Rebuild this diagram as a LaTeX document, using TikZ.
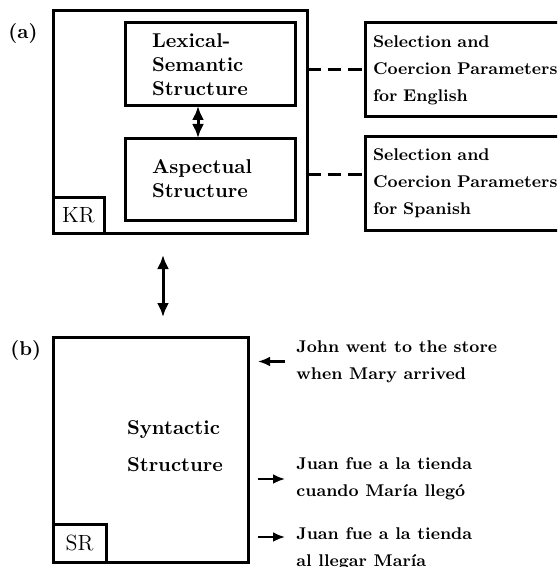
\documentclass[tikz,border=0pt]{standalone}
\usetikzlibrary{arrows.meta,positioning}
\tikzstyle{frame} = [rectangle, draw, line width=1.5pt, inner sep=0pt, outer sep=0pt]
\tikzstyle{block} = [frame, align=left, font=\bfseries, inner xsep=13.5pt,
text width=58pt, minimum width=85pt]
\tikzstyle{param} = [frame, align=left, font=\fontsize{8.5}{13.5}\selectfont\bfseries,
inner xsep=4pt, text width=110pt, minimum height=47pt, anchor=west]
\tikzstyle{tag} = [frame, font=\fontsize{11}{13}\selectfont, anchor=south west]
\tikzstyle{sentence} = [align=left, font=\fontsize{8.5}{13.5}\selectfont\bfseries,
inner sep=0pt, anchor=west]
\tikzstyle{dashlink} = [line width=1.5pt, dash pattern=on 6.75pt off 3.5pt]
\tikzstyle{pair} = [line width=1.5pt, {Latex[length=7pt,width=6pt]}-{Latex[length=7pt,width=6pt]}]
\tikzstyle{link} = [line width=1.3pt, -{Latex[length=6pt,width=5pt]}]

\begin{document}
\begin{tikzpicture}[x=0.5pt, y=-0.5pt]
\path [use as bounding box, clip] (0,0) rectangle (557,567);
\node [frame, minimum width=127pt, minimum height=111pt] (kr) at (180,122) {};
\node [tag, minimum width=25.5pt, minimum height=18pt] (krtag) at (kr.south west) {KR};
\node [block, minimum height=41.5pt] (lex) at (210,64.5) {Lexical-\\Semantic\\Structure};
\node [block, minimum height=41pt, below=16pt of lex] (asp) {Aspectual\\Structure};
\node [param] (eng) at (365,70) {Selection and\\Coercion Parameters\\for English};
\node [param] (spa) at (365,183.5) {Selection and\\Coercion Parameters\\for Spanish};
\node [font=\bfseries, anchor=west, inner sep=0pt] (alabel) at (8,33) {(a)};
\coordinate (spaline) at ([yshift=4.75pt]spa.west);

\node [frame, minimum width=97.5pt, minimum height=112.5pt] (sr) at (150.5,449.5) {};
\node [tag, minimum width=26.5pt, minimum height=19pt] (srtag) at (sr.south west) {SR};
\node [align=left, font=\bfseries, inner sep=0pt] (syn) at (175,446.5) {Syntactic\\[6.5pt]Structure};
\node [font=\bfseries, anchor=west, inner sep=0pt] (blabel) at (10,350) {(b)};
\node [sentence] (john) at (296,361.5) {John went to the store\\when Mary arrived};
\node [sentence] (juana) at (296,479) {Juan fue a la tienda\\cuando María llegó};
\node [sentence] (juanb) at (296,548.5) {Juan fue a la tienda\\al llegar María};
\coordinate (juanline) at ([yshift=5.75pt]juanb.west);

\draw [pair] ([xshift=-6pt]lex.south) -- ([xshift=-6pt]asp.north);
\draw [dashlink] (kr.east |- eng.west) -- (eng.west);
\draw [dashlink] (spaline -| kr.east) -- (spaline);
\draw [pair, shorten <=11pt, shorten >=10pt] ([xshift=-8.5pt]kr.south) -- ([xshift=-8.5pt]kr.south |- sr.north);
\draw [link, shorten <=5.5pt, shorten >=5pt] (john.west) -- (john.west -| sr.east);
\draw [link, shorten <=5pt, shorten >=5.5pt] (juana.west -| sr.east) -- (juana.west);
\draw [link, shorten <=5pt, shorten >=5.5pt] (juanline -| sr.east) -- (juanline);
\end{tikzpicture}
\end{document}
